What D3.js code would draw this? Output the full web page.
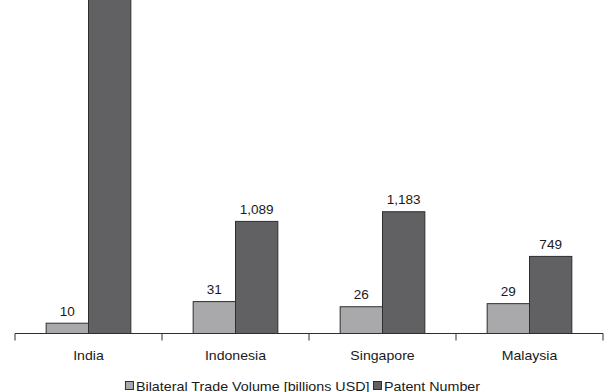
<!DOCTYPE html>
<html>
<head>
<meta charset="utf-8">
<script src="https://cdn.jsdelivr.net/npm/d3@7"></script>
<style>
  html, body { margin: 0; padding: 0; background: #fff; }
  svg { display: block; font-family: "Liberation Sans", Arial, sans-serif; }
</style>
</head>
<body>
<svg id="chart" width="608" height="392"></svg>
<script>
// Countries and the two series compared for each
const categories = ["India", "Indonesia", "Singapore", "Malaysia"];
const seriesNames = ["Bilateral Trade Volume [billions USD]", "Patent Number"];
const tradeVolume = [10, 31, 26, 29];
const patentNumber = [3650, 1089, 1183, 749];

const colors = ["#a9a9ab", "#616163"];
const strokeColor = "#2e2e2e";
const textColor = "#1a1a1a";
const stretch = 1.13;       // slightly wide lettering
const legendStretch = 1.1;

const svg = d3.select("#chart");
const baseY = 333.5;

// Patents on the main scale; trade volume on a companion scale (1 : 10)
const yPatent = d3.scaleLinear().domain([0, 3240]).range([baseY, 0]);
const yTrade = d3.scaleLinear().domain([0, 324]).range([baseY, 0]);

const x0 = d3.scaleBand().domain(categories).range([15, 603]).padding(0);
const gw = x0.bandwidth();
const x1 = d3.scaleBand().domain([0, 1]).range([gw * 0.212, gw * 0.788]).padding(0);

const fmt = d3.format(",");

const rows = categories.map((c, i) => ({
  cat: c,
  vals: [
    { s: 0, v: tradeVolume[i], y: yTrade },
    { s: 1, v: patentNumber[i], y: yPatent }
  ]
}));

const groups = svg.selectAll("g.grp").data(rows).join("g")
  .attr("class", "grp")
  .attr("transform", d => `translate(${x0(d.cat)},0)`);

groups.selectAll("rect").data(d => d.vals).join("rect")
  .attr("x", d => x1(d.s))
  .attr("y", d => d.y(d.v))
  .attr("width", x1.bandwidth())
  .attr("height", d => baseY - d.y(d.v))
  .attr("fill", d => colors[d.s])
  .attr("stroke", strokeColor)
  .attr("stroke-width", 1);

// Value labels above bars (bars running past the top edge carry none)
groups.selectAll("text.val").data(d => d.vals.filter(v => v.y(v.v) > 20)).join("text")
  .attr("class", "val")
  .attr("transform", d => `translate(${x1(d.s) + x1.bandwidth() / 2},${d.y(d.v) - 7.5}) scale(${stretch},1)`)
  .attr("text-anchor", "middle")
  .attr("font-size", 12)
  .attr("fill", textColor)
  .text(d => fmt(d.v));

// Category axis: labels at band centres, ticks at band edges
const axis = svg.append("g").attr("transform", `translate(0,${baseY})`)
  .call(d3.axisBottom(x0).tickSize(0).tickPadding(0));
axis.select(".domain").attr("stroke", strokeColor).attr("d", "M15,0H603");
axis.selectAll(".tick text")
  .attr("y", null).attr("dy", null)
  .attr("transform", `translate(0,26.5) scale(${stretch},1)`)
  .attr("font-size", 12.5)
  .attr("font-family", "Liberation Sans, Arial, sans-serif")
  .attr("fill", textColor);

const edges = categories.map(c => x0(c)).concat([x0.range()[1]]);
axis.selectAll("line.edge").data(edges).join("line")
  .attr("class", "edge")
  .attr("x1", d => d).attr("x2", d => d)
  .attr("y1", 0).attr("y2", 7)
  .attr("stroke", strokeColor);

// Legend
const legend = svg.append("g").attr("transform", "translate(0,385.5)");
const items = legend.selectAll("g").data(seriesNames).join("g");
items.append("rect")
  .attr("width", 8).attr("height", 8).attr("y", -4)
  .attr("fill", (d, i) => colors[i]).attr("stroke", strokeColor);
items.append("text")
  .attr("transform", `translate(10.5,5) scale(${legendStretch},1)`)
  .attr("font-size", 13)
  .attr("fill", textColor)
  .text(d => d);

const widths = [];
items.each(function () {
  const t = d3.select(this).select("text").node().getBBox().width * legendStretch;
  widths.push(10.5 + t);
});
const gap = 4;
const total = d3.sum(widths) + gap * (widths.length - 1);
let cx = 303 - total / 2;
items.attr("transform", (d, i) => {
  const t = `translate(${cx},0)`;
  cx += widths[i] + gap;
  return t;
});
</script>
</body>
</html>
